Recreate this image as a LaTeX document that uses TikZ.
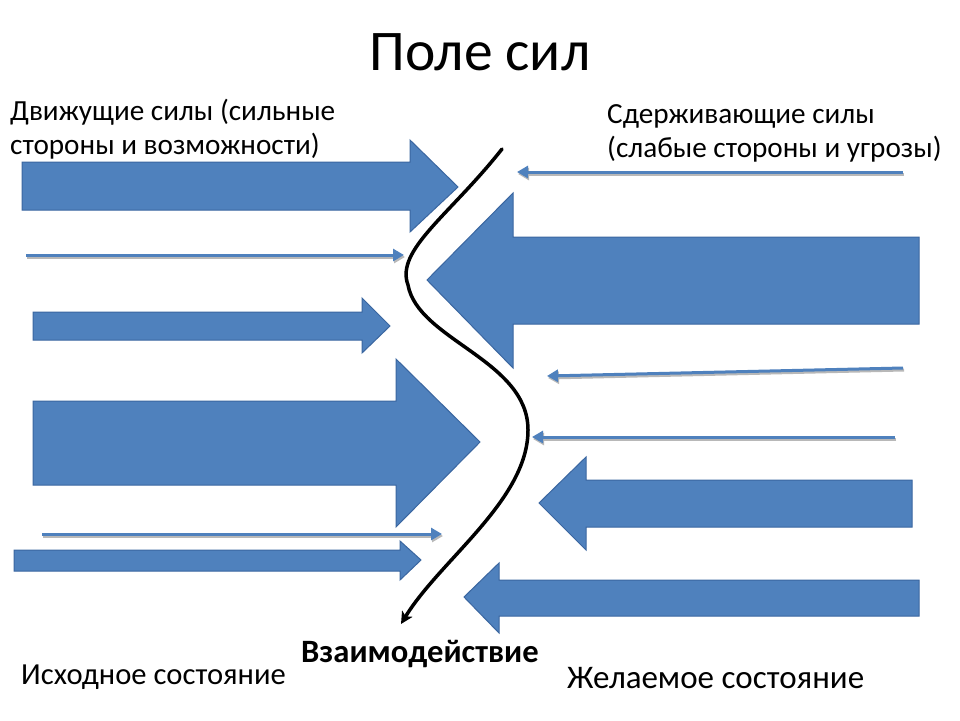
\documentclass[tikz,border=0pt]{standalone}
\usepackage{fontspec}
\setmainfont{Carlito}
\usetikzlibrary{arrows.meta}
\definecolor{blk}{HTML}{4F81BD}
\definecolor{blkborder}{HTML}{3A66A0}
\definecolor{shadowgray}{HTML}{B8B8B8}
\tikzset{
  blockarrow/.style={fill=blk, draw=blkborder, line width=1pt, line join=miter},
  thinforce/.style={draw=blk, line width=3pt, -{Triangle[length=11pt,width=12pt]}},
  thinshadow/.style={draw=shadowgray, line width=3pt, -{Triangle[length=11pt,width=12pt]}},
  boundary/.style={draw=black, line width=3.5pt, line cap=round, -{Stealth[length=12pt,width=12pt,inset=3pt]}},
  label/.style={inner sep=0pt, font=\fontsize{29.2}{32}\selectfont},
}
\begin{document}
\begin{tikzpicture}[x=1pt,y=-1pt]
\useasboundingbox[fill=white] (0,0) rectangle (960,720);

% ---- titles and texts
\node[inner sep=0pt, anchor=base, font=\fontsize{57.5}{60}\selectfont] (title) at (480,70) {Поле сил};
\node[label, anchor=base west] (l1) at (10,120) {Движущие силы (сильные};
\node[label, anchor=base west] (l2) at (10,154) {стороны и возможности)};
\node[label, anchor=base west] (r1) at (607,123) {Сдерживающие силы};
\node[label, anchor=base west] (r2) at (607,157) {(слабые стороны и угрозы)};
\node[inner sep=0pt, anchor=base west, font=\fontsize{32.6}{34}\selectfont\bfseries] (inter) at (301,662) {Взаимодействие};
\node[inner sep=0pt, anchor=base west, font=\fontsize{30.6}{32}\selectfont] (start) at (21,684) {Исходное состояние};
\node[inner sep=0pt, anchor=base west, font=\fontsize{33}{35}\selectfont] (goal) at (567,688) {Желаемое состояние};

% ---- driving forces (left, pointing right)
\draw[blockarrow] (22,162) -- (410,162) -- (410,140) -- (458,187) -- (410,232) -- (410,210) -- (22,210) -- cycle;
\draw[blockarrow] (33,312) -- (362,312) -- (362,298) -- (390,326) -- (362,353) -- (362,340) -- (33,340) -- cycle;
\draw[blockarrow] (33,401) -- (396,401) -- (396,359) -- (480,442) -- (396,527) -- (396,485) -- (33,485) -- cycle;
\draw[blockarrow] (14,550) -- (400,550) -- (400,541) -- (421,560) -- (400,580) -- (400,571) -- (14,571) -- cycle;

\coordinate (d2s) at (26,255);  \coordinate (d2e) at (404,255);
\coordinate (d5s) at (42,534);  \coordinate (d5e) at (442,534);
\draw[thinshadow] ([shift={(1,2)}]d2s) -- ([shift={(1,2)}]d2e);
\draw[thinforce] (d2s) -- (d2e);
\draw[thinshadow] ([shift={(1,2)}]d5s) -- ([shift={(1,2)}]d5e);
\draw[thinforce] (d5s) -- (d5e);

% ---- restraining forces (right, pointing left)
\draw[blockarrow] (919,237) -- (513,237) -- (513,193) -- (427,280) -- (513,368) -- (513,324) -- (919,324) -- cycle;
\draw[blockarrow] (912,480) -- (586,480) -- (586,457) -- (539,503) -- (586,550) -- (586,527) -- (912,527) -- cycle;
\draw[blockarrow] (919,580) -- (499,580) -- (499,563) -- (464,597) -- (499,633) -- (499,616) -- (919,616) -- cycle;

\coordinate (r1s) at (903,172); \coordinate (r1e) at (517,172);
\coordinate (r3s) at (903,368); \coordinate (r3e) at (547,376);
\coordinate (r4s) at (895,437); \coordinate (r4e) at (532,437);
\foreach \a/\b in {r1s/r1e, r3s/r3e, r4s/r4e}{
  \draw[thinshadow] ([shift={(1,2)}]\a) -- ([shift={(1,2)}]\b);
  \draw[thinforce] (\a) -- (\b);
}

% ---- interaction boundary
\coordinate (c0) at (502,149);
\coordinate (c1) at (408,285);
\coordinate (c2) at (528,430);
\coordinate (c3) at (401,624);
\draw[boundary] (c0) .. controls (450,215) and (395,250) .. (c1)
  .. controls (418,340) and (528,360) .. (c2)
  .. controls (528,500) and (440,560) .. (c3);
\end{tikzpicture}
\end{document}
